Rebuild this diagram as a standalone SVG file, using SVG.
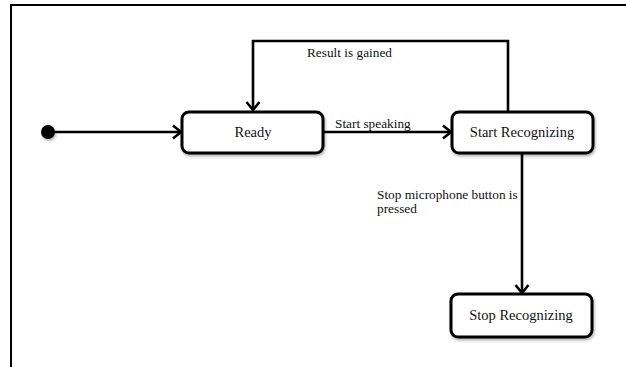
<svg xmlns="http://www.w3.org/2000/svg" width="626" height="367" viewBox="0 0 626 367">
<style>
.frame{fill:none;stroke:#000;stroke-width:2}
.box{fill:#fff;stroke:#000;stroke-width:3}
.edge{fill:none;stroke:#000;stroke-width:2.6}
.lbl{font-family:"Liberation Serif","Times New Roman",serif;font-size:14.5px;fill:#111;text-anchor:middle}
.elbl{font-family:"Liberation Serif","Times New Roman",serif;font-size:13.3px;fill:#111}
</style>
<defs>
<marker id="arr" markerUnits="userSpaceOnUse" markerWidth="14" markerHeight="16" refX="11" refY="8" orient="auto">
<path d="M3,1.5 L11,8 L3,14.5" fill="none" stroke="#000" stroke-width="2.6" stroke-linejoin="miter"/>
</marker>
<filter id="sh" x="-10%" y="-20%" width="125%" height="150%">
<feGaussianBlur in="SourceAlpha" stdDeviation="1.5"/>
<feOffset dx="1" dy="2" result="b"/>
<feComponentTransfer><feFuncA type="linear" slope="0.3"/></feComponentTransfer>
<feMerge><feMergeNode/><feMergeNode in="SourceGraphic"/></feMerge>
</filter>
</defs>
<rect width="626" height="367" fill="#fff"/>
<path class="frame" d="M11,367 L11,5 L626,5"/>
<g id="connectors">
<line class="edge" x1="52" y1="132" x2="181" y2="132" marker-end="url(#arr)"/>
<line class="edge" x1="323" y1="132" x2="451" y2="132" marker-end="url(#arr)"/>
<path class="edge" d="M508,111 L508,41 L253,41 L253,110" marker-end="url(#arr)"/>
<line class="edge" x1="522" y1="153" x2="522" y2="293" marker-end="url(#arr)"/>
<text class="elbl" x="335" y="128">Start speaking</text>
<text class="elbl" x="307" y="57">Result is gained</text>
<text class="elbl" x="377" y="199">Stop microphone button is</text>
<text class="elbl" x="377" y="213">pressed</text>
</g>
<g id="initial">
<circle cx="48" cy="132" r="7" fill="#000" filter="url(#sh)"/>
</g>
<g id="ready">
<rect class="box" x="182" y="112" width="141" height="41" rx="7" filter="url(#sh)"/>
<text class="lbl" x="253" y="137">Ready</text>
</g>
<g id="start-recognizing">
<rect class="box" x="452" y="112" width="141" height="41" rx="7" filter="url(#sh)"/>
<text class="lbl" x="522" y="137">Start Recognizing</text>
</g>
<g id="stop-recognizing">
<rect class="box" x="451" y="294" width="141" height="43" rx="7" filter="url(#sh)"/>
<text class="lbl" x="521" y="320">Stop Recognizing</text>
</g>
</svg>
